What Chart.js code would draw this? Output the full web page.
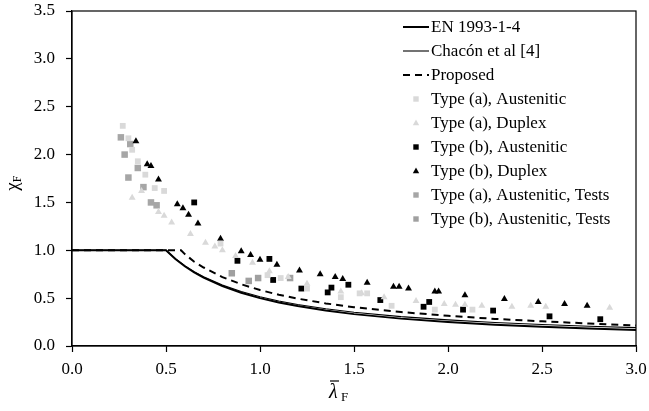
<!DOCTYPE html>
<html>
<head>
<meta charset="utf-8">
<script src="https://cdn.jsdelivr.net/npm/chart.js@4.4.0/dist/chart.umd.min.js"></script>
<style>
body { margin: 0; background: #fff; }
#wrap { width: 649px; height: 411px; }
</style>
</head>
<body>
<div id="wrap"><canvas id="myChart"></canvas></div>
<script>
// design curves
const lamCurve = [0, 0.5, 0.55, 0.6, 0.65, 0.7, 0.8, 0.9, 1.0, 1.1, 1.2, 1.35, 1.5, 1.75, 2.0, 2.25, 2.5, 2.75, 3.0];
const chiEN = [1, 1, 0.909, 0.833, 0.769, 0.714, 0.625, 0.556, 0.5, 0.455, 0.417, 0.370, 0.333, 0.286, 0.25, 0.222, 0.2, 0.182, 0.167];
const chiChacon = [1, 1, 0.912, 0.838, 0.776, 0.723, 0.636, 0.569, 0.515, 0.471, 0.434, 0.389, 0.353, 0.307, 0.273, 0.246, 0.224, 0.206, 0.192];
const lamProp = [0, 0.58, 0.6, 0.65, 0.7, 0.8, 0.9, 1.0, 1.1, 1.2, 1.35, 1.5, 1.75, 2.0, 2.25, 2.5, 2.75, 3.0];
const chiProp = [1, 1, 0.96, 0.88, 0.82, 0.72, 0.645, 0.585, 0.535, 0.495, 0.445, 0.405, 0.355, 0.315, 0.283, 0.258, 0.235, 0.215];

// numerical / test results [lambda, chi]
const typeAAus = [[0.27,2.30],[0.30,2.17],[0.32,2.05],[0.35,1.93],[0.39,1.79],[0.44,1.65],[0.49,1.62],
  [0.79,1.07],[1.04,0.74],[1.11,0.71],[1.25,0.60],[1.43,0.51],[1.53,0.55],[1.57,0.55],[1.70,0.42],[1.93,0.38],[2.13,0.38]];
const typeADup = [[0.32,1.55],[0.37,1.62],[0.46,1.40],[0.49,1.36],[0.53,1.29],[0.63,1.17],[0.71,1.08],[0.76,1.04],
  [0.80,1.00],[0.87,0.94],[0.96,0.87],[1.05,0.78],[1.15,0.72],[1.25,0.65],[1.43,0.57],[1.54,0.55],[1.66,0.51],
  [1.83,0.47],[1.98,0.44],[2.04,0.43],[2.09,0.43],[2.18,0.42],[2.34,0.41],[2.44,0.42],[2.52,0.41],[2.86,0.40]];
const typeBAus = [[0.65,1.50],[0.88,0.89],[1.05,0.91],[1.07,0.69],[1.22,0.60],[1.36,0.56],[1.38,0.61],[1.47,0.64],
  [1.64,0.48],[1.87,0.41],[1.90,0.46],[2.08,0.38],[2.24,0.37],[2.54,0.31],[2.81,0.28]];
const typeBDup = [[0.34,2.14],[0.40,1.90],[0.42,1.88],[0.46,1.74],[0.56,1.48],[0.59,1.44],[0.62,1.37],[0.67,1.28],
  [0.79,1.12],[0.90,0.99],[0.95,0.95],[1.00,0.90],[1.09,0.85],[1.21,0.79],[1.32,0.75],[1.40,0.72],[1.44,0.70],
  [1.57,0.66],[1.71,0.62],[1.74,0.62],[1.79,0.60],[1.93,0.57],[1.95,0.57],[2.09,0.53],[2.30,0.49],[2.48,0.46],
  [2.62,0.44],[2.74,0.42]];
const typeATests = [[0.26,2.18],[0.31,2.11],[0.28,2.00],[0.35,1.86],[0.30,1.76],[0.38,1.66],[0.42,1.50],[0.45,1.47]];
const typeBTests = [[0.85,0.76],[0.94,0.68],[0.99,0.71],[1.16,0.71]];

const toPts = (xs, ys) => xs.map((x, i) => ({x: x, y: ys[i]}));
const pairs = (arr) => arr.map(p => ({x: p[0], y: p[1]}));

const FONT = "'Liberation Serif', 'Times New Roman', serif";

const lineSet = (label, data, width, dash) => ({
  label: label, data: data, showLine: true, borderColor: '#000', borderWidth: width,
  borderDash: dash, pointRadius: 0, pointHoverRadius: 0, tension: 0, fill: false
});
const pointSet = (label, data, color, style, r) => ({
  label: label, data: data, showLine: false, pointStyle: style, pointRadius: r,
  backgroundColor: color, borderColor: color, pointBorderWidth: 0
});

const datasets = [
  lineSet('EN 1993-1-4', toPts(lamCurve, chiEN), 2, []),
  lineSet('Chacón et al [4]', toPts(lamCurve, chiChacon), 1.1, []),
  lineSet('Proposed', toPts(lamProp, chiProp), 2, [7, 5]),
  pointSet('Type (a), Austenitic', pairs(typeAAus), '#d9d9d9', 'rect', 4.1),
  pointSet('Type (a), Duplex', pairs(typeADup), '#d9d9d9', 'triangle', 4),
  pointSet('Type (b), Austenitic', pairs(typeBAus), '#000', 'rect', 4.1),
  pointSet('Type (b), Duplex', pairs(typeBDup), '#000', 'triangle', 4),
  pointSet('Type (a), Austenitic, Tests', pairs(typeATests), '#a6a6a6', 'rect', 4.6),
  pointSet('Type (b), Austenitic, Tests', pairs(typeBTests), '#a0a0a0', 'rect', 4.6)
];

// frame, axis titles and legend drawn by hand
const extras = {
  id: 'extras',
  afterDraw(chart) {
    const ctx = chart.ctx;
    const a = chart.chartArea;
    ctx.save();
    ctx.strokeStyle = '#000';
    ctx.lineWidth = 1.2;
    ctx.strokeRect(a.left, a.top, a.right - a.left, a.bottom - a.top);

    // y title
    ctx.save();
    ctx.translate(18, (a.top + a.bottom) / 2 + 4);
    ctx.rotate(-Math.PI / 2);
    ctx.fillStyle = '#000';
    ctx.textBaseline = 'alphabetic';
    ctx.font = '19px ' + FONT;
    const wc = ctx.measureText('χ').width;
    ctx.fillText('χ', -wc / 2 - 4, 0);
    ctx.font = '12px ' + FONT;
    ctx.fillText('F', wc / 2 - 4, 3);
    ctx.restore();

    // x title
    ctx.fillStyle = '#000';
    ctx.font = 'italic 20px ' + FONT;
    ctx.fillText('λ', 329, 398);
    ctx.font = '13px ' + FONT;
    ctx.fillText('F', 341, 401);
    ctx.beginPath();
    ctx.lineWidth = 1.2;
    ctx.moveTo(330, 381);
    ctx.lineTo(339, 381);
    ctx.stroke();

    // legend
    ctx.font = '17px ' + FONT;
    ctx.textBaseline = 'middle';
    chart.data.datasets.forEach((ds, i) => {
      const y = 27 + 24 * i;
      if (ds.showLine) {
        ctx.beginPath();
        ctx.setLineDash(ds.borderDash || []);
        ctx.lineWidth = ds.borderWidth;
        ctx.strokeStyle = '#000';
        ctx.moveTo(403, y);
        ctx.lineTo(429, y);
        ctx.stroke();
        ctx.setLineDash([]);
      } else {
        ctx.fillStyle = ds.backgroundColor;
        const cx = 416;
        if (ds.pointStyle === 'rect') {
          ctx.fillRect(cx - 2.7, y - 2.7, 5.4, 5.4);
        } else {
          ctx.beginPath();
          ctx.moveTo(cx, y - 3.5);
          ctx.lineTo(cx + 3.2, y + 2.2);
          ctx.lineTo(cx - 3.2, y + 2.2);
          ctx.closePath();
          ctx.fill();
        }
      }
      ctx.fillStyle = '#000';
      ctx.fillText(ds.label, 431, y + 1);
    });
    ctx.restore();
  }
};

const axisStyle = {
  grid: { drawOnChartArea: false, drawTicks: true, tickLength: 6, color: '#000', tickColor: '#000', tickWidth: 1.2 },
  border: { color: '#000', width: 1.2 }
};

new Chart(document.getElementById('myChart'), {
  type: 'scatter',
  data: { datasets: datasets },
  options: {
    responsive: true,
    maintainAspectRatio: false,
    animation: false,
    events: [],
    layout: { padding: { top: 11, right: 13, left: 0, bottom: 0 } },
    plugins: { legend: { display: false }, tooltip: { enabled: false } },
    scales: {
      x: Object.assign({
        type: 'linear', min: 0, max: 3,
        ticks: { stepSize: 0.5, color: '#000', padding: 7, font: { family: FONT, size: 17 }, callback: v => v.toFixed(1) },
        afterFit: s => { s.height = 65; s.paddingLeft = 0; s.paddingRight = 0; }
      }, axisStyle),
      y: Object.assign({
        type: 'linear', min: 0, max: 3.5,
        ticks: { stepSize: 0.5, color: '#000', padding: 11, font: { family: FONT, size: 17 }, callback: v => v.toFixed(1) },
        afterFit: s => { s.width = 72; s.paddingTop = 0; s.paddingBottom = 0; }
      }, axisStyle)
    }
  },
  plugins: [extras]
});
</script>
</body>
</html>
